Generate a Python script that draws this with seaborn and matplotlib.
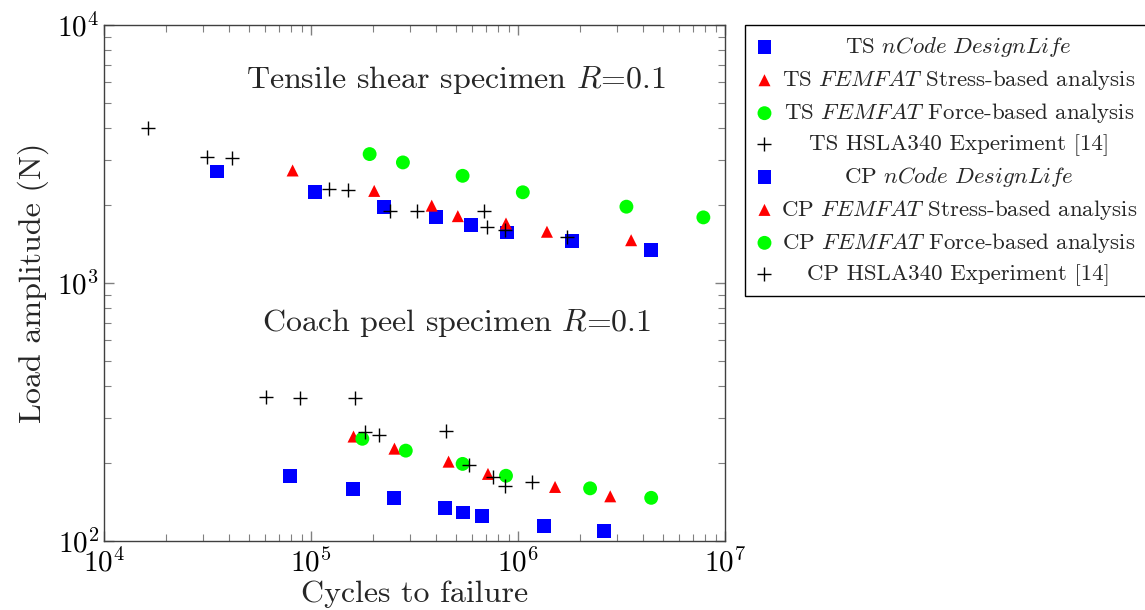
import numpy as np
import pandas as pd
import seaborn as sns
import matplotlib
matplotlib.use('Agg')
import matplotlib.pyplot as plt
from matplotlib.offsetbox import VPacker

# tensile shear (TS) data
ts_ncode_x = [35200, 105000, 226000, 401000, 590000, 887000, 1830000, 4400000]
ts_ncode_y = [2706, 2247, 1976, 1796, 1676, 1570, 1456, 1343]
ts_stress_x = [81500, 202000, 383000, 512000, 875000, 1380000, 3520000]
ts_stress_y = [2730, 2275, 1994, 1816, 1701, 1580, 1465]
ts_force_x = [192000, 278000, 540000, 1055000, 3340000, 7860000]
ts_force_y = [3160, 2933, 2603, 2247, 1976, 1796]
ts_exp_x = [16300, 31500, 41700, 122800, 151400, 240000, 323500, 684000, 709000, 867000, 1720000]
ts_exp_y = [3990, 3076, 3050, 2309, 2295, 1900, 1905, 1905, 1642, 1601, 1509]

# coach peel (CP) data
cp_ncode_x = [78900, 160000, 251000, 444000, 545000, 669000, 1340000, 2610000]
cp_ncode_y = [179, 159, 147, 134, 129, 125, 114, 109]
cp_stress_x = [160500, 253000, 462000, 716000, 1510000, 2790000]
cp_stress_y = [254, 228, 203, 182, 162, 149]
cp_force_x = [177000, 287000, 540000, 875000, 2230000, 4400000]
cp_force_y = [249, 224, 199, 179, 160, 147]
cp_exp_x = [60900, 88700, 164000, 182000, 213000, 448000, 580000, 758000, 867000, 1170000]
cp_exp_y = [362, 358, 358, 264, 257, 268, 197, 177, 163, 169]

labels = [
    r'TS $\mathit{nCode\ DesignLife}$',
    r'TS $\mathit{FEMFAT}$ Stress-based analysis',
    r'TS $\mathit{FEMFAT}$ Force-based analysis',
    'TS HSLA340 Experiment [14]',
    r'CP $\mathit{nCode\ DesignLife}$',
    r'CP $\mathit{FEMFAT}$ Stress-based analysis',
    r'CP $\mathit{FEMFAT}$ Force-based analysis',
    'CP HSLA340 Experiment [14]',
]

sns.set_style('ticks')
plt.rcParams['font.family'] = ['cmr10', 'DejaVu Serif']
plt.rcParams['mathtext.fontset'] = 'cm'
plt.rcParams['axes.formatter.use_mathtext'] = True

fig = plt.figure(figsize=(11.45, 6.1), dpi=100)
ax = fig.add_axes([104 / 1145, 1 - 541 / 610, 621 / 1145, 516 / 610])

series = [
    (ts_ncode_x, ts_ncode_y, 's', 'blue', 100),
    (ts_stress_x, ts_stress_y, '^', 'red', 75),
    (ts_force_x, ts_force_y, 'o', '#00ff00', 100),
    (ts_exp_x, ts_exp_y, '+', 'black', 110),
    (cp_ncode_x, cp_ncode_y, 's', 'blue', 100),
    (cp_stress_x, cp_stress_y, '^', 'red', 75),
    (cp_force_x, cp_force_y, 'o', '#00ff00', 100),
    (cp_exp_x, cp_exp_y, '+', 'black', 110),
]

for (xs, ys, m, c, sz), lab in zip(series, labels):
    df = pd.DataFrame({'cycles': xs, 'load': ys})
    if m == '+':
        sns.scatterplot(data=df, x='cycles', y='load', marker=m, color=c, s=sz,
                        linewidth=1.0, label=lab, ax=ax, zorder=3)
    else:
        sns.scatterplot(data=df, x='cycles', y='load', marker=m, color=c, s=sz,
                        edgecolor='none', linewidth=0, label=lab, ax=ax, zorder=3)

ax.set_xscale('log')
ax.set_yscale('log')
ax.set_xlim(1e4, 1e7)
ax.set_ylim(1e2, 1e4)
ax.set_xlabel('Cycles to failure', fontsize=23, labelpad=2)
ax.set_ylabel('Load amplitude (N)', fontsize=23, labelpad=6)

ax.tick_params(which='both', direction='in', top=True, right=True,
               color='#808080', labelcolor='black', labelsize=21)
ax.tick_params(axis='x', pad=5)
ax.tick_params(which='major', length=7, width=1)
ax.tick_params(which='minor', length=5, width=0.8)
for sp in ax.spines.values():
    sp.set_color('#404040')
    sp.set_linewidth(1)

ax.text(0.567, 0.893, 'Tensile shear specimen $R$=0.1', transform=ax.transAxes,
        ha='center', va='center', fontsize=23)
ax.text(0.567, 0.4225, 'Coach peel specimen $R$=0.1', transform=ax.transAxes,
        ha='center', va='center', fontsize=23)

leg = ax.legend(loc='upper left', bbox_to_anchor=(745 / 1145, 1 - 25 / 610),
                bbox_transform=fig.transFigure, borderaxespad=0, fontsize=16.5,
                frameon=True, fancybox=False, edgecolor='black', framealpha=1,
                handlelength=0.8, handletextpad=0.3, labelspacing=0.39,
                borderpad=0.45, scatterpoints=1)
leg.get_frame().set_linewidth(1)

# centre the legend texts like the original
fig.canvas.draw()
r = fig.canvas.get_renderer()
W = max(t.get_window_extent(r).width for t in leg.get_texts())
for col in leg._legend_handle_box.get_children():
    rows = col.get_children()
    for row in rows:
        kids = row.get_children()
        kids[1] = VPacker(children=[kids[1]], pad=0, sep=0, width=W, align='center')

fig.savefig('out.png', dpi=100)
